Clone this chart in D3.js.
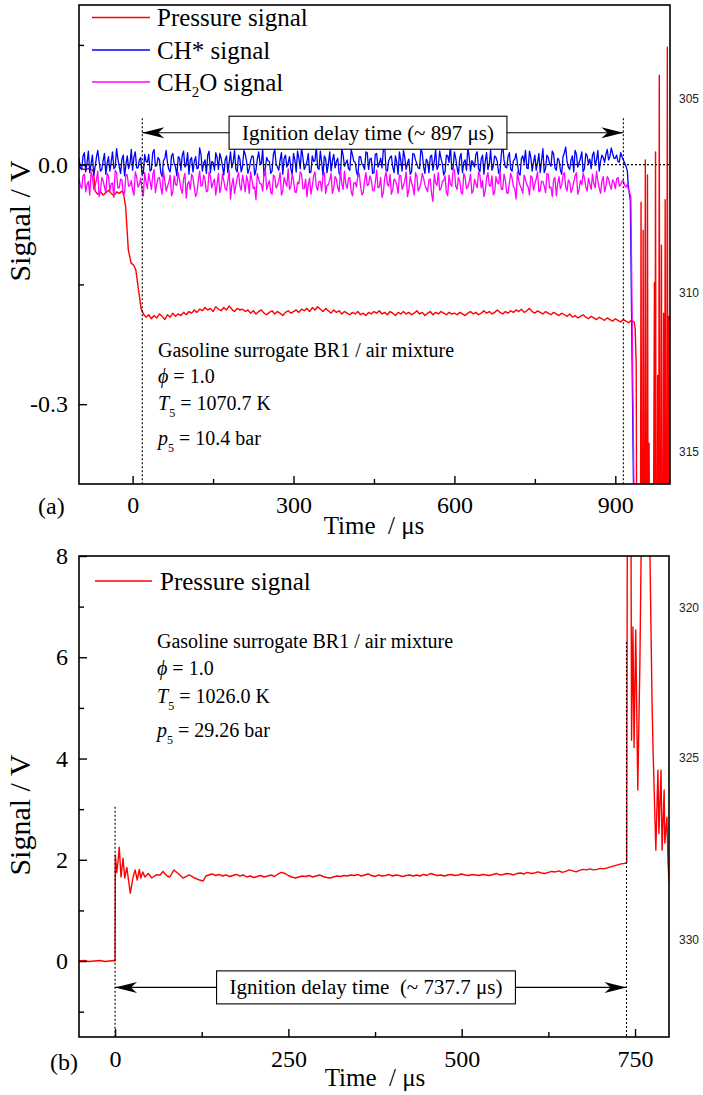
<!DOCTYPE html>
<html><head><meta charset="utf-8">
<script src="https://cdn.jsdelivr.net/npm/d3@7"></script>
<style>body{margin:0;background:#fff}</style>
</head><body><svg id="c" width="703" height="1095" xmlns="http://www.w3.org/2000/svg"></svg>
<script>
// ---------------- DATA ----------------
// Panel (a)
const xTicksA = [0, 300, 600, 900];
const xMinorA = [150, 450, 750];
const yTicksA = [-0.3, 0.0];
const yMinorA = [-0.15, 0.15];
const noiseStartA = -100, noiseEndA = 920, noiseStepA = 5;   // samples of chSignal / ch2oSignal
const noiseOffsetA = 2.5;                                    // samples of chSignal2 / ch2oSignal2 are shifted by this
const chSignal = [
0.008,-0.006,0.015,0.002,-0.010,0.012,-0.003,0.018,-0.008,0.005,
-0.012,0.010,0.003,-0.005,0.020,-0.002,0.007,-0.014,0.011,0.001,
-0.007,0.016,-0.004,0.009,-0.011,0.004,0.013,-0.006,0.019,-0.001,
0.006,-0.015,0.008,0.002,-0.009,0.014,-0.003,0.010,-0.007,0.017,
0.000,-0.012,0.009,0.004,-0.005,0.021,-0.008,0.006,0.012,-0.010,
0.003,0.015,-0.006,0.008,-0.013,0.011,0.002,-0.004,0.018,-0.009,
0.007,-0.002,0.013,-0.011,0.005,0.010,-0.007,0.016,0.001,-0.014,
0.009,0.004,-0.008,0.019,-0.003,0.006,-0.012,0.012,0.002,-0.005,
0.014,-0.009,0.008,0.022,-0.006,0.003,-0.010,0.011,0.005,-0.004,
0.017,-0.013,0.007,0.001,-0.008,0.013,0.004,-0.011,0.020,-0.002,
0.006,-0.007,0.012,0.003,-0.015,0.010,-0.001,0.016,-0.006,0.008,
-0.010,0.014,0.002,-0.004,0.024,-0.008,0.009,-0.003,0.011,-0.012,
0.005,0.018,-0.006,0.007,-0.009,0.013,0.001,-0.005,0.015,-0.011,
0.004,0.010,-0.007,0.019,-0.002,0.008,-0.013,0.012,0.003,-0.006,
0.016,-0.004,0.009,-0.010,0.006,0.021,-0.008,0.002,0.013,-0.005,
0.007,-0.012,0.015,0.000,-0.007,0.011,0.004,-0.009,0.026,-0.003,
0.010,-0.006,0.005,0.014,-0.011,0.008,0.002,-0.004,0.017,-0.008,
0.012,0.003,-0.010,0.020,-0.005,0.009,-0.002,0.013,-0.007,0.006,
-0.012,0.015,0.004,-0.006,0.011,0.018,-0.003,0.008,-0.009,0.014,
0.001,-0.005,0.016,0.006,-0.008,0.012,0.003,0.019,0.010,0.014,
0.008,0.004,0.015,0.006,-0.002];
const chSignal2 = [
-0.004,0.011,-0.009,0.017,0.001,-0.013,0.009,0.004,-0.006,0.014,
0.002,-0.008,0.016,-0.003,0.007,-0.011,0.012,0.000,-0.005,0.019,
0.010,-0.004,0.006,-0.012,0.013,0.003,-0.008,0.015,-0.002,0.009,
-0.010,0.005,0.018,-0.006,0.011,0.001,-0.014,0.008,0.012,-0.003,
0.015,0.006,-0.009,0.010,-0.004,0.013,0.002,-0.011,0.017,0.004,
-0.007,0.009,0.014,-0.002,0.006,-0.010,0.016,0.003,-0.006,0.012,
-0.009,0.018,0.004,-0.005,0.011,-0.013,0.007,0.002,0.020,-0.004,
0.005,-0.011,0.013,0.001,-0.007,0.015,0.008,-0.003,0.010,-0.012,
0.006,0.017,-0.005,0.009,-0.002,0.014,-0.009,0.004,0.023,-0.006,
0.003,0.011,-0.010,0.016,0.005,-0.004,0.008,-0.013,0.012,0.002,
-0.005,0.019,0.004,-0.009,0.010,0.001,-0.006,0.015,0.007,-0.011,
0.013,-0.003,0.008,0.018,-0.007,0.005,0.011,-0.010,0.003,0.016,
-0.008,0.009,0.002,-0.012,0.014,0.006,-0.004,0.020,-0.002,0.007,
-0.010,0.012,0.004,-0.006,0.017,0.001,-0.009,0.011,0.025,-0.005,
0.008,-0.012,0.014,0.003,-0.007,0.010,0.005,-0.003,0.016,-0.009,
0.012,0.004,-0.006,0.019,-0.002,0.009,-0.011,0.013,0.006,-0.004,
0.015,-0.008,0.007,0.002,-0.013,0.011,0.018,-0.005,0.009,0.003,
-0.007,0.014,0.005,-0.010,0.012,0.001,0.017,-0.004,0.008,-0.006,
0.010,0.022,-0.003,0.006,-0.009,0.013,0.002,0.016,-0.005,0.011,
0.007,0.012,-0.001,0.018,0.004,0.009,0.013,0.006,0.021,0.008,
0.012,0.003,0.010,0.002,-0.008];
const chTailT = [924, 928, 934, 940];
const chTailV = [-0.025, -0.045, -0.41, -0.6];
const ch2oSignal = [
-0.018,-0.030,-0.012,-0.025,-0.038,-0.015,-0.027,-0.008,-0.033,-0.020,
-0.035,-0.014,-0.024,-0.041,-0.010,-0.029,-0.019,-0.036,-0.013,-0.026,
-0.032,-0.009,-0.028,-0.017,-0.039,-0.022,-0.011,-0.031,-0.006,-0.024,
-0.016,-0.037,-0.020,-0.027,-0.013,-0.034,-0.025,-0.010,-0.030,-0.018,
-0.042,-0.021,-0.012,-0.029,-0.035,-0.008,-0.026,-0.019,-0.033,-0.014,
-0.023,-0.038,-0.011,-0.028,-0.020,-0.032,-0.007,-0.025,-0.036,-0.016,
-0.027,-0.013,-0.034,-0.021,-0.009,-0.030,-0.044,-0.018,-0.024,-0.012,
-0.031,-0.020,-0.037,-0.015,-0.026,-0.010,-0.033,-0.022,-0.005,-0.028,
-0.019,-0.035,-0.024,-0.012,-0.030,-0.040,-0.017,-0.027,-0.009,-0.032,
-0.021,-0.014,-0.036,-0.025,-0.011,-0.029,-0.018,-0.034,-0.023,-0.008,
-0.030,-0.016,-0.039,-0.022,-0.013,-0.027,-0.035,-0.010,-0.025,-0.019,
-0.033,-0.007,-0.028,-0.041,-0.017,-0.024,-0.012,-0.031,-0.020,-0.036,
-0.014,-0.026,-0.009,-0.032,-0.022,-0.038,-0.015,-0.029,-0.011,-0.025,
-0.034,-0.018,-0.046,-0.023,-0.010,-0.030,-0.020,-0.035,-0.013,-0.027,
-0.006,-0.031,-0.021,-0.037,-0.016,-0.028,-0.012,-0.033,-0.024,-0.009,
-0.029,-0.040,-0.017,-0.026,-0.014,-0.035,-0.022,-0.008,-0.031,-0.019,
-0.036,-0.011,-0.027,-0.043,-0.020,-0.030,-0.013,-0.025,-0.038,-0.016,
-0.024,-0.009,-0.032,-0.021,-0.035,-0.012,-0.028,-0.019,-0.039,-0.015,
-0.026,-0.010,-0.033,-0.022,-0.030,-0.014,-0.037,-0.020,-0.011,-0.028,
-0.017,-0.031,-0.024,-0.008,-0.029,-0.021,-0.034,-0.015,-0.026,-0.019,
-0.030,-0.016,-0.025,-0.020,-0.028];
const ch2oSignal2 = [
-0.026,-0.014,-0.034,-0.021,-0.009,-0.031,-0.019,-0.040,-0.016,-0.028,
-0.011,-0.033,-0.023,-0.007,-0.029,-0.018,-0.037,-0.012,-0.027,-0.020,
-0.038,-0.015,-0.025,-0.032,-0.010,-0.030,-0.021,-0.013,-0.035,-0.017,
-0.028,-0.008,-0.033,-0.022,-0.039,-0.014,-0.026,-0.019,-0.036,-0.011,
-0.024,-0.031,-0.016,-0.040,-0.020,-0.027,-0.013,-0.034,-0.009,-0.029,
-0.018,-0.025,-0.035,-0.012,-0.030,-0.021,-0.043,-0.017,-0.026,-0.010,
-0.032,-0.023,-0.014,-0.036,-0.019,-0.028,-0.011,-0.024,-0.033,-0.006,
-0.025,-0.035,-0.013,-0.029,-0.020,-0.038,-0.016,-0.027,-0.031,-0.012,
-0.034,-0.022,-0.009,-0.030,-0.018,-0.025,-0.037,-0.014,-0.028,-0.021,
-0.033,-0.010,-0.026,-0.019,-0.036,-0.015,-0.029,-0.007,-0.031,-0.024,
-0.017,-0.034,-0.023,-0.028,-0.011,-0.038,-0.020,-0.026,-0.014,-0.032,
-0.022,-0.029,-0.016,-0.035,-0.009,-0.027,-0.037,-0.018,-0.025,-0.013,
-0.031,-0.020,-0.040,-0.015,-0.028,-0.010,-0.033,-0.023,-0.017,-0.030,
-0.019,-0.037,-0.012,-0.026,-0.032,-0.021,-0.014,-0.039,-0.024,-0.008,
-0.027,-0.016,-0.034,-0.011,-0.030,-0.022,-0.036,-0.018,-0.029,-0.013,
-0.020,-0.033,-0.010,-0.027,-0.038,-0.015,-0.024,-0.031,-0.012,-0.035,
-0.023,-0.017,-0.030,-0.009,-0.026,-0.036,-0.019,-0.028,-0.014,-0.032,
-0.018,-0.034,-0.021,-0.027,-0.011,-0.029,-0.040,-0.016,-0.024,-0.030,
-0.013,-0.028,-0.019,-0.035,-0.022,-0.010,-0.031,-0.025,-0.017,-0.033,
-0.024,-0.012,-0.029,-0.020,-0.036,-0.015,-0.027,-0.018,-0.031,-0.022,
-0.018,-0.027,-0.021,-0.026,-0.024];
const ch2oTailT = [924, 929, 935, 940];
const ch2oTailV = [-0.030, -0.040, -0.42, -0.6];
const pressA_preT = [-100,-90,-80,-73,-70,-65,-60,-55,-50,-45,-40,-35,-30,-25,-20,-17,-13,-8,-6,-3,2,6,11,16,21];
const pressA_preV = [-0.004,-0.006,-0.005,-0.008,-0.033,-0.037,-0.034,-0.038,-0.035,-0.032,-0.036,-0.039,-0.034,-0.036,-0.033,-0.036,-0.053,-0.107,-0.113,-0.123,-0.126,-0.132,-0.157,-0.181,-0.188];
const pressA_flatStart = 25, pressA_flatEnd = 935, pressA_flatStep = 5;
const pressA_flat = [
-0.191,-0.188,-0.193,-0.189,-0.192,-0.187,-0.190,-0.194,-0.188,-0.191,-0.186,-0.190,-0.187,-0.189,-0.185,-0.188,
-0.184,-0.186,-0.182,-0.185,-0.181,-0.183,-0.179,-0.182,-0.180,-0.184,-0.178,-0.181,-0.183,-0.179,-0.182,-0.177,-0.181,-0.184,-0.180,-0.182,
-0.181,-0.184,-0.182,-0.186,-0.183,-0.187,-0.184,-0.182,-0.186,-0.188,-0.185,-0.183,-0.187,-0.184,-0.186,-0.189,-0.185,-0.183,-0.186,-0.184,
-0.182,-0.185,-0.181,-0.183,-0.180,-0.184,-0.179,-0.182,-0.178,-0.181,-0.184,-0.180,-0.183,-0.186,-0.182,-0.185,-0.183,-0.187,-0.184,-0.186,
-0.188,-0.185,-0.187,-0.184,-0.188,-0.186,-0.189,-0.185,-0.187,-0.184,-0.186,-0.183,-0.187,-0.185,-0.188,-0.184,-0.186,-0.189,-0.185,-0.187,
-0.184,-0.187,-0.185,-0.188,-0.186,-0.183,-0.187,-0.185,-0.189,-0.186,-0.184,-0.188,-0.185,-0.187,-0.184,-0.186,-0.188,-0.185,-0.187,-0.186,
-0.188,-0.185,-0.187,-0.189,-0.186,-0.184,-0.187,-0.185,-0.188,-0.186,-0.183,-0.186,-0.184,-0.187,-0.185,-0.182,-0.185,-0.187,-0.184,-0.186,
-0.183,-0.185,-0.182,-0.184,-0.181,-0.185,-0.183,-0.180,-0.184,-0.186,-0.183,-0.185,-0.187,-0.184,-0.186,-0.188,-0.185,-0.187,-0.189,-0.186,
-0.188,-0.190,-0.187,-0.191,-0.189,-0.192,-0.190,-0.188,-0.191,-0.193,-0.190,-0.192,-0.194,-0.191,-0.193,-0.195,-0.192,-0.194,-0.196,-0.193,
-0.195,-0.197,-0.194,-0.196,-0.198,-0.195,-0.197];
const pressA_tailT = [937,939,940,947,948,949,951,952,953,955,956,957,959,960,961,963,964,971,973,974,975,976,978,979,980,981,982,983,985,986,987,989,990,991,992,993,994,996,997,998,1000,1002];
const pressA_tailV = [-0.205,-0.25,-0.5,-0.5,-0.047,-0.5,-0.5,-0.082,-0.5,-0.5,0.006,-0.5,-0.5,-0.013,-0.5,-0.349,-0.5,-0.5,-0.148,-0.5,0.016,-0.5,-0.5,-0.264,-0.5,-0.5,0.112,-0.5,-0.5,-0.101,-0.5,-0.5,-0.186,-0.5,-0.5,-0.044,-0.5,-0.5,0.147,-0.5,-0.19,-0.5];
const idtA = [18, 915];
const idtLabelA = "Ignition delay time (~ 897 μs)";
const infoA = ["Gasoline surrogate BR1 / air mixture", "1.0", "1070.7 K", "10.4 bar"];
const lineNumsA = ["305", "310", "315"];

// Panel (b)
const xTicksB = [0, 250, 500, 750];
const xMinorB = [125, 375, 625];
const yTicksB = [0, 2, 4, 6, 8];
const yMinorB = [-1, 1, 3, 5, 7];
const pressB_preT = [-52,-45,-38,-30,-22,-15,-8,-2,0];
const pressB_preV = [0.00,0.01,-0.01,0.00,0.01,-0.01,0.00,0.01,0.00];
const pressB_riseT = [0.4,2.5,4.5,6,8.6,11.5,14,17,20,22,23.5,26,29,32,35,37,40,43,48,53,59,65,69,75,79,85,91,98,107,115,122,127,131];
const pressB_riseV = [2.09,1.75,2.0,2.25,1.66,2.03,1.64,1.85,1.54,1.34,1.46,1.66,1.8,1.6,1.81,1.64,1.76,1.66,1.73,1.64,1.7,1.7,1.77,1.68,1.66,1.8,1.73,1.64,1.7,1.64,1.6,1.58,1.68];
const pressB_flatStart = 135, pressB_flatEnd = 735, pressB_flatStep = 5;
const pressB_flat = [
1.70,1.72,1.69,1.71,1.68,1.70,1.67,1.69,1.71,1.68,1.70,1.66,1.68,1.65,1.67,1.69,1.66,1.68,1.70,1.67,
1.72,1.75,1.73,1.69,1.66,1.64,1.66,1.68,1.67,1.69,1.66,1.68,1.70,1.67,1.65,1.64,1.66,1.68,1.67,1.69,
1.68,1.70,1.69,1.71,1.68,1.70,1.72,1.69,1.67,1.70,1.68,1.69,1.71,1.68,1.70,1.69,1.67,1.69,1.70,1.68,
1.70,1.68,1.71,1.69,1.73,1.71,1.69,1.70,1.68,1.70,1.71,1.69,1.70,1.72,1.70,1.69,1.71,1.70,1.69,1.71,
1.70,1.69,1.71,1.73,1.70,1.71,1.73,1.72,1.70,1.73,1.74,1.72,1.75,1.73,1.74,1.76,1.74,1.73,1.75,1.77,
1.76,1.78,1.75,1.77,1.80,1.78,1.76,1.79,1.81,1.80,1.82,1.80,1.81,1.83,1.82,1.84,1.86,1.88,1.90,1.92,
1.93];
const pressB_tailT = [738,739,744,745,747,748.6,751,754,757,760,770,774.5,776,780,783,784.5,787.5,789,792,793,796,797.5,799];
const pressB_tailV = [1.95,9.5,9.5,4.36,6.6,4.22,6.54,3.38,5.88,9.5,9.5,5.15,4.17,2.19,3.77,2.52,3.77,2.19,3.38,2.33,2.84,2.0,1.55];
const idtB = [0, 737.7];
const idtLabelB = "Ignition delay time  (~ 737.7 μs)";
const infoB = ["Gasoline surrogate BR1 / air mixture", "1.0", "1026.0 K", "29.26 bar"];
const lineNumsB = ["320", "325", "330"];

// ---------------- DRAWING ----------------
const SERIF = '"Liberation Serif","Times New Roman",serif';
const SANS = '"Liberation Sans",Arial,sans-serif';
const RED = "#ff0000", BLUE = "#0000ff", MAG = "#ff00ff";
const svg = d3.select("#c");
const defs = svg.append("defs");

const xA = d3.scaleLinear().domain([-100, 1002]).range([79, 670]);
const yA = d3.scaleLinear().domain([-0.4, 0.2]).range([484, 5]);
const xB = d3.scaleLinear().domain([-52, 799]).range([79, 669]);
const yB = d3.scaleLinear().domain([-1.5, 8]).range([1037, 556]);

function clip(id, x, y) {
  defs.append("clipPath").attr("id", id).append("rect")
    .attr("x", x.range()[0]).attr("y", y.range()[1])
    .attr("width", x.range()[1] - x.range()[0]).attr("height", y.range()[0] - y.range()[1]);
}
clip("clipA", xA, yA); clip("clipB", xB, yB);

function series(times, vals) { return d3.zip(times, vals); }

function drawLine(g, x, y, pts, color, w) {
  g.append("path").datum(pts)
    .attr("fill", "none").attr("stroke", color).attr("stroke-width", w)
    .attr("stroke-linejoin", "round")
    .attr("d", d3.line().x(d => x(d[0])).y(d => y(d[1])));
}

function styleAxis(g, fs) {
  g.select(".domain").remove();
  g.selectAll("text").attr("font-family", SERIF).attr("font-size", fs).attr("fill", "#000");
  g.selectAll("line").attr("stroke", "#000").attr("stroke-width", 1.4);
}

function axes(x, y, xt, xm, yt, ym, yfmt, xpad) {
  const y0 = y.range()[0], x0 = x.range()[0];
  const gx = svg.append("g").attr("transform", `translate(0,${y0})`)
    .call(d3.axisBottom(x).tickValues(xt).tickSizeInner(-8).tickSizeOuter(0).tickPadding(xpad).tickFormat(d => String(d)));
  styleAxis(gx, 24);
  const gxm = svg.append("g").attr("transform", `translate(0,${y0})`)
    .call(d3.axisBottom(x).tickValues(xm).tickSizeInner(-5).tickSizeOuter(0).tickFormat(""));
  styleAxis(gxm, 24);
  const gy = svg.append("g").attr("transform", `translate(${x0},0)`)
    .call(d3.axisLeft(y).tickValues(yt).tickSizeInner(-8).tickSizeOuter(0).tickPadding(11).tickFormat(yfmt));
  styleAxis(gy, 24);
  const gym = svg.append("g").attr("transform", `translate(${x0},0)`)
    .call(d3.axisLeft(y).tickValues(ym).tickSizeInner(-5).tickSizeOuter(0).tickFormat(""));
  styleAxis(gym, 24);
  svg.append("rect").attr("x", x0).attr("y", y.range()[1])
    .attr("width", x.range()[1] - x0).attr("height", y0 - y.range()[1])
    .attr("fill", "none").attr("stroke", "#000").attr("stroke-width", 1.6);
}

function dotted(g, x1, y1, x2, y2) {
  g.append("line").attr("x1", x1).attr("y1", y1).attr("x2", x2).attr("y2", y2)
    .attr("stroke", "#000").attr("stroke-width", 1.1).attr("stroke-dasharray", "2,2");
}

function arrowHead(g, xp, yp, dir) {
  const L = 22, W = 11;
  g.append("path")
    .attr("d", `M${xp},${yp} L${xp + dir * L},${yp - W / 2} L${xp + dir * L * 0.72},${yp} L${xp + dir * L},${yp + W / 2} Z`)
    .attr("fill", "#000");
}

function idtAnnot(x, y, t, yv, label, boxCx) {
  const g = svg.append("g");
  const xa = x(t[0]), xb = x(t[1]), ya = y(yv);
  g.append("line").attr("x1", xa).attr("x2", xb).attr("y1", ya).attr("y2", ya)
    .attr("stroke", "#000").attr("stroke-width", 1.1);
  arrowHead(g, xa, ya, 1); arrowHead(g, xb, ya, -1);
  const txt = g.append("text").attr("x", boxCx).attr("y", ya + 7).attr("text-anchor", "middle")
    .attr("font-family", SERIF).attr("font-size", 21).attr("xml:space", "preserve")
    .style("white-space", "pre").text(label);
  const bb = txt.node().getBBox();
  g.insert("rect", "text").attr("x", bb.x - 13).attr("y", ya - 16.5)
    .attr("width", bb.width + 26).attr("height", 33)
    .attr("fill", "#fff").attr("stroke", "#000").attr("stroke-width", 1.1);
}

function infoBlock(xp, baselines, info) {
  const mk = (yb) => svg.append("text").attr("x", xp).attr("y", yb)
    .attr("font-family", SERIF).attr("font-size", 20).attr("fill", "#000");
  mk(baselines[0]).text(info[0]);
  const t1 = mk(baselines[1]);
  t1.append("tspan").attr("font-style", "italic").text("ϕ");
  t1.append("tspan").text(" = " + info[1]);
  const t2 = mk(baselines[2]);
  t2.append("tspan").attr("font-style", "italic").text("T");
  t2.append("tspan").attr("font-size", 12).attr("dy", 7).text("5");
  t2.append("tspan").attr("dy", -7).text(" = " + info[2]);
  const t3 = mk(baselines[3]);
  t3.append("tspan").attr("font-style", "italic").text("p");
  t3.append("tspan").attr("font-size", 12).attr("dy", 7).text("5");
  t3.append("tspan").attr("dy", -7).text(" = " + info[3]);
}

function legendItem(y, color, textFn) {
  svg.append("line").attr("x1", 92).attr("x2", 150).attr("y1", y).attr("y2", y)
    .attr("stroke", color).attr("stroke-width", 1.3);
  const t = svg.append("text").attr("x", 157).attr("y", y + 8.5)
    .attr("font-family", SERIF).attr("font-size", 25).attr("fill", "#000");
  textFn(t);
}

function axisTitles(cx, by, cy) {
  svg.append("text").attr("x", cx).attr("y", by).attr("text-anchor", "middle")
    .attr("font-family", SERIF).attr("font-size", 25).style("white-space", "pre")
    .attr("xml:space", "preserve").text("Time  / μs");
  svg.append("text").attr("transform", `translate(30,${cy}) rotate(-90)`).attr("text-anchor", "middle")
    .attr("font-family", SERIF).attr("font-size", 30).text("Signal / V");
}

function lineNums(ys, labels) {
  labels.forEach((l, i) => svg.append("text").attr("x", 679).attr("y", ys[i])
    .attr("font-family", SANS).attr("font-size", 12).attr("fill", "#222").text(l));
}

// ---- Panel (a) ----
const gA = svg.append("g").attr("clip-path", "url(#clipA)");
const tNoiseA = d3.range(noiseStartA, noiseEndA + 1, noiseStepA);
const tNoiseA2 = tNoiseA.map(t => t + noiseOffsetA);
function noisy(v1, v2, tailT, tailV) {
  return d3.sort(series(tNoiseA, v1).concat(series(tNoiseA2, v2)), d => d[0])
    .concat(series(tailT, tailV));
}
const pressA = series(pressA_preT, pressA_preV)
  .concat(series(d3.range(pressA_flatStart, pressA_flatEnd + 1, pressA_flatStep), pressA_flat))
  .concat(series(pressA_tailT, pressA_tailV));
drawLine(gA, xA, yA, pressA, RED, 1.4);
drawLine(gA, xA, yA, noisy(chSignal, chSignal2, chTailT, chTailV), BLUE, 1.3);
drawLine(gA, xA, yA, noisy(ch2oSignal, ch2oSignal2, ch2oTailT, ch2oTailV), MAG, 1.3);

const annA = svg.append("g");
dotted(annA, xA(-100), yA(0), xA(1002), yA(0));
dotted(annA, xA(idtA[0]), yA(0.058), xA(idtA[0]), yA(-0.4));
dotted(annA, xA(idtA[1]), yA(0.058), xA(idtA[1]), yA(-0.4));
idtAnnot(xA, yA, idtA, 0.04, idtLabelA, 368);
axes(xA, yA, xTicksA, xMinorA, yTicksA, yMinorA, d => d.toFixed(1), 12);

legendItem(17.5, RED, t => t.text("Pressure signal"));
legendItem(50, BLUE, t => t.text("CH* signal"));
legendItem(82, MAG, t => {
  t.append("tspan").text("CH");
  t.append("tspan").attr("font-size", 15).attr("dy", 6).text("2");
  t.append("tspan").attr("dy", -6).text("O signal");
});
infoBlock(158, [357, 383, 410, 445], infoA);
axisTitles(374, 534, 221);
svg.append("text").attr("x", 38).attr("y", 514).attr("font-family", SERIF).attr("font-size", 24).text("(a)");
lineNums([103, 297, 456], lineNumsA);

// ---- Panel (b) ----
const gB = svg.append("g").attr("clip-path", "url(#clipB)");
const pressB = series(pressB_preT, pressB_preV)
  .concat(series(pressB_riseT, pressB_riseV))
  .concat(series(d3.range(pressB_flatStart, pressB_flatEnd + 1, pressB_flatStep), pressB_flat))
  .concat(series(pressB_tailT, pressB_tailV));
drawLine(gB, xB, yB, pressB, RED, 1.4);

const annB = svg.append("g");
dotted(annB, xB(idtB[0]), yB(3.05), xB(idtB[0]), yB(-1.5));
dotted(annB, xB(idtB[1]), yB(6.3), xB(idtB[1]), yB(-1.5));
idtAnnot(xB, yB, idtB, -0.52, idtLabelB, 366);
axes(xB, yB, xTicksB, xMinorB, yTicksB, yMinorB, d => String(d), 13);

svg.append("line").attr("x1", 95).attr("x2", 152).attr("y1", 581).attr("y2", 581)
  .attr("stroke", RED).attr("stroke-width", 1.3);
svg.append("text").attr("x", 160).attr("y", 589.5).attr("font-family", SERIF).attr("font-size", 25).text("Pressure signal");
infoBlock(157, [648, 675, 703, 737], infoB);
axisTitles(375, 1086, 815);
svg.append("text").attr("x", 50).attr("y", 1070).attr("font-family", SERIF).attr("font-size", 24).text("(b)");
lineNums([612, 762, 944], lineNumsB);
</script></body></html>
